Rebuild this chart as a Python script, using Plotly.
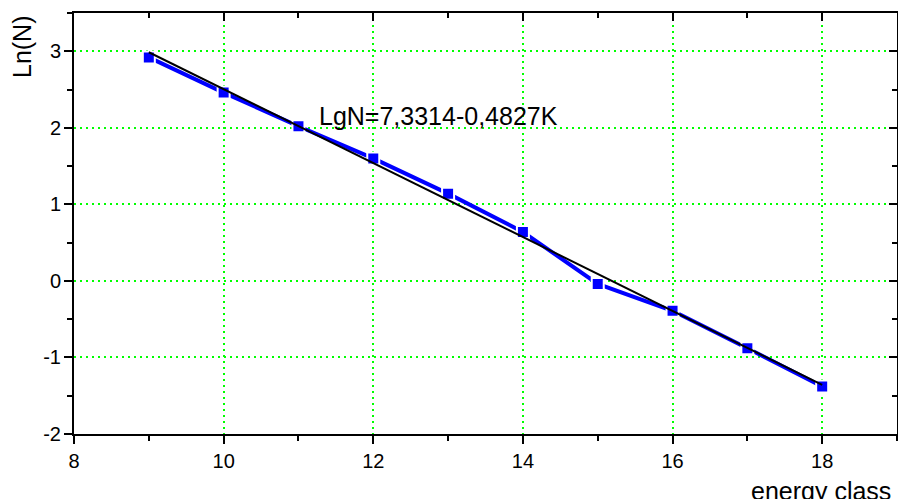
import plotly.graph_objects as go

energy_class = [9, 10, 11, 12, 13, 14, 15, 16, 17, 18]
ln_n = [2.92, 2.46, 2.02, 1.60, 1.14, 0.64, -0.04, -0.39, -0.88, -1.38]

fit_x = [9, 18]
fit_y = [2.987, -1.357]

x_ticks = [8, 10, 12, 14, 16, 18]
x_labels = ["8", "10", "12", "14", "16", "18"]
y_ticks = [-2, -1, 0, 1, 2, 3]
y_labels = ["-2", "-1", "0", "1", "2", "3"]

fig = go.Figure()

fig.add_trace(go.Scatter(
    x=energy_class, y=ln_n, mode="lines+markers",
    line=dict(color="#0000ff", width=4),
    marker=dict(symbol="square", size=12, color="#0000ff",
                line=dict(color="white", width=2)),
    showlegend=False, hoverinfo="skip"))

fig.add_trace(go.Scatter(
    x=fit_x, y=fit_y, mode="lines",
    line=dict(color="black", width=2),
    showlegend=False, hoverinfo="skip"))

# invisible trace to carry mirror axes
fig.add_trace(go.Scatter(x=[8], y=[3.5], xaxis="x2", yaxis="y2",
                         mode="markers", marker=dict(opacity=0),
                         showlegend=False, hoverinfo="skip"))

font_family = "Arial, Liberation Sans, sans-serif"
grid = dict(showgrid=True, gridcolor="#00ff00", gridwidth=2, griddash="2px,4px")

fig.update_layout(
    width=898, height=499,
    margin=dict(l=74, r=1, t=13, b=65, autoexpand=False),
    paper_bgcolor="white", plot_bgcolor="white",
    font=dict(family=font_family, size=20, color="black"),
    xaxis=dict(range=[8, 19], tickvals=x_ticks, ticktext=x_labels,
               ticks="outside", ticklen=8, automargin=False,
               tickwidth=2, tickcolor="black", showline=True, linewidth=2,
               linecolor="black", zeroline=False,
               minor=dict(dtick=1, tick0=8, ticks="outside", ticklen=5,
                          tickwidth=2, tickcolor="black", showgrid=False),
               **grid),
    yaxis=dict(range=[-2, 3.5], tickvals=y_ticks, ticktext=y_labels,
               ticks="outside", ticklen=8, automargin=False,
               ticklabelstandoff=-1,
               tickwidth=2, tickcolor="black", showline=True, linewidth=2,
               linecolor="black", zeroline=False,
               minor=dict(dtick=0.5, tick0=-2, ticks="outside", ticklen=5,
                          tickwidth=2, tickcolor="black", showgrid=False),
               **grid),
    xaxis2=dict(range=[8, 19], overlaying="x", side="top", anchor="y",
                tickvals=x_ticks, ticks="inside", ticklen=8, tickwidth=2,
                tickcolor="black", showticklabels=False, showline=True,
                automargin=False,
                linewidth=2, linecolor="black", showgrid=False, zeroline=False,
                minor=dict(dtick=1, tick0=8, ticks="inside", ticklen=5,
                           tickwidth=2, tickcolor="black")),
    yaxis2=dict(range=[-2, 3.5], overlaying="y", side="right", anchor="x",
                tickvals=y_ticks, ticks="inside", ticklen=8, tickwidth=2,
                tickcolor="black", showticklabels=False, showline=True,
                automargin=False,
                linewidth=2, linecolor="black", showgrid=False, zeroline=False,
                minor=dict(dtick=0.5, tick0=-2, ticks="inside", ticklen=5,
                           tickwidth=2, tickcolor="black")),
    annotations=[
        dict(text="LgN=7,3314-0,4827K", x=11.25, y=2.15, xref="x", yref="y",
             xanchor="left", yanchor="middle", showarrow=False,
             font=dict(size=25, family=font_family, color="black")),
        dict(text="energy class", x=0.908, y=-0.135, xref="paper", yref="paper",
             xanchor="center", yanchor="middle", showarrow=False,
             font=dict(size=25, family=font_family, color="black")),
        dict(text="Ln(N)", x=-0.064, y=0.92, xref="paper", yref="paper",
             xanchor="center", yanchor="middle", textangle=-90, showarrow=False,
             font=dict(size=25, family=font_family, color="black")),
    ],
)

fig.write_html(
    "out.html",
    config={"displayModeBar": False},
    post_script="document.body.style.margin='0';document.body.style.overflow='hidden';",
)
